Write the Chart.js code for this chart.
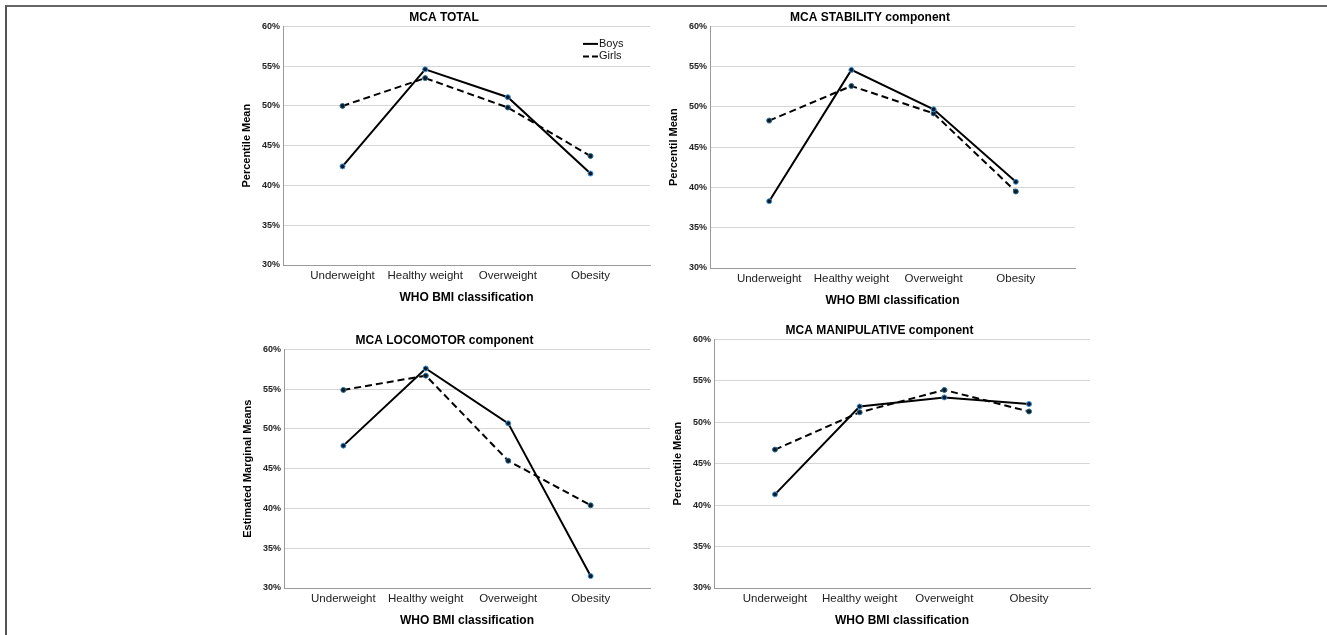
<!DOCTYPE html>
<html>
<head>
<meta charset="utf-8">
<script src="https://cdn.jsdelivr.net/npm/chart.js"></script>
<style>
  body { margin: 0; background: #fff; width: 1327px; height: 635px; overflow: hidden; position: relative; }
  .frame { position: absolute; left: 5px; top: 5px; right: 0; bottom: 0; border-top: 2px solid #666; border-left: 2px solid #555; }
  .panel { position: absolute; }
</style>
</head>
<body>
<div class="frame"></div>
<div class="panel" style="left:233px;top:10px;width:422px;height:295px"><canvas id="totalChart"></canvas></div>
<div class="panel" style="left:660px;top:10px;width:420px;height:298px"><canvas id="stabilityChart"></canvas></div>
<div class="panel" style="left:234px;top:333px;width:421px;height:295px"><canvas id="locomotorChart"></canvas></div>
<div class="panel" style="left:664px;top:323px;width:431px;height:305px"><canvas id="manipulativeChart"></canvas></div>

<script>
const categories = ['Underweight', 'Healthy weight', 'Overweight', 'Obesity'];

const totalBoys = [42.4, 54.6, 51.1, 41.5];
const totalGirls = [50.0, 53.5, 49.8, 43.7];
const stabilityBoys = [38.3, 54.6, 49.7, 40.7];
const stabilityGirls = [48.3, 52.6, 49.2, 39.5];
const locomotorBoys = [47.9, 57.6, 50.7, 31.5];
const locomotorGirls = [54.9, 56.7, 46.0, 40.4];
const manipulativeBoys = [41.3, 51.9, 53.0, 52.2];
const manipulativeGirls = [46.7, 51.2, 53.9, 51.3];

const yTicks = [30, 35, 40, 45, 50, 55, 60];

Chart.defaults.font.family = '"Liberation Sans", Arial, sans-serif';
Chart.defaults.color = '#000';

// SPSS leaves extra room either side of the first/last category
const xPad = 0.72;

function seriesPoints(values) {
    return values.map((v, i) => ({ x: i, y: v }));
}

// legend drawn inside the plot, top right, only on the first panel
const lineLegend = {
    id: 'lineLegend',
    afterDatasetsDraw(chart) {
        const { ctx, chartArea } = chart;
        ctx.save();
        ctx.font = '11px "Liberation Sans", Arial, sans-serif';
        ctx.textBaseline = 'middle';
        chart.data.datasets.forEach((ds, i) => {
            const y = chartArea.top + 17.5 + i * 12.5;
            const x = chartArea.right - 67;
            ctx.beginPath();
            ctx.setLineDash(ds.borderDash ? [6, 3] : []);
            ctx.lineWidth = 2;
            ctx.strokeStyle = ds.borderColor;
            ctx.moveTo(x, y);
            ctx.lineTo(x + 15, y);
            ctx.stroke();
            ctx.setLineDash([]);
            ctx.fillStyle = '#111';
            ctx.fillText(ds.label, x + 16, y);
        });
        ctx.restore();
    }
};

function makePanel(id, title, yTitle, boys, girls, plugins) {
    const ctx = document.getElementById(id).getContext('2d');
    return new Chart(ctx, {
        type: 'line',
        data: {
            datasets: [{
                label: 'Boys',
                data: seriesPoints(boys),
                borderColor: '#000',
                borderWidth: 2,
                pointRadius: 2.5,
                pointBackgroundColor: '#0b1a2b',
                pointBorderColor: '#3d92d6',
                pointBorderWidth: 1,
                tension: 0
            }, {
                label: 'Girls',
                data: seriesPoints(girls),
                borderColor: '#000',
                borderWidth: 2,
                borderDash: [7, 4],
                pointRadius: 2.5,
                pointBackgroundColor: '#0b1a2b',
                pointBorderColor: '#2f6f8f',
                pointBorderWidth: 1,
                tension: 0
            }]
        },
        options: {
            responsive: true,
            maintainAspectRatio: false,
            animation: false,
            layout: { padding: 0 },
            plugins: {
                legend: { display: false },
                tooltip: { enabled: false },
                title: {
                    display: true,
                    text: title,
                    color: '#000',
                    font: { size: 12, weight: 'bold' },
                    padding: { top: 0, bottom: 2 }
                }
            },
            scales: {
                x: {
                    type: 'linear',
                    min: -xPad,
                    max: categories.length - 1 + xPad,
                    afterBuildTicks: axis => { axis.ticks = categories.map((c, i) => ({ value: i })); },
                    afterFit: axis => { axis.height = 40; },
                    grid: { display: false, drawTicks: false },
                    border: { display: true, color: '#9a9a9a', width: 1 },
                    ticks: {
                        padding: 4,
                        color: '#222',
                        autoSkip: false,
                        maxRotation: 0,
                        font: { size: 11.5 },
                        callback: v => categories[v] ?? ''
                    },
                    title: {
                        display: true,
                        text: 'WHO BMI classification',
                        color: '#000',
                        font: { size: 12, weight: 'bold' },
                        padding: { top: 0, bottom: 0 }
                    }
                },
                y: {
                    min: yTicks[0],
                    max: yTicks[yTicks.length - 1],
                    afterFit: axis => { axis.width = 50; },
                    afterBuildTicks: axis => { axis.ticks = yTicks.map(v => ({ value: v })); },
                    grid: { color: '#d6d6d6', lineWidth: 1, drawTicks: false },
                    border: { color: '#9a9a9a', width: 1 },
                    ticks: {
                        padding: 3,
                        color: '#222',
                        font: { size: 9, weight: 'bold' },
                        callback: v => v + '%'
                    },
                    title: {
                        display: true,
                        text: yTitle,
                        color: '#000',
                        font: { size: 11, weight: 'bold' },
                        padding: { top: 7, bottom: 0 }
                    }
                }
            }
        },
        plugins: plugins || []
    });
}

makePanel('totalChart', 'MCA TOTAL', 'Percentile Mean', totalBoys, totalGirls, [lineLegend]);
makePanel('stabilityChart', 'MCA STABILITY component', 'Percentil Mean', stabilityBoys, stabilityGirls);
makePanel('locomotorChart', 'MCA LOCOMOTOR component', 'Estimated Marginal Means', locomotorBoys, locomotorGirls);
makePanel('manipulativeChart', 'MCA MANIPULATIVE component', 'Percentile Mean', manipulativeBoys, manipulativeGirls);
</script>
</body>
</html>
